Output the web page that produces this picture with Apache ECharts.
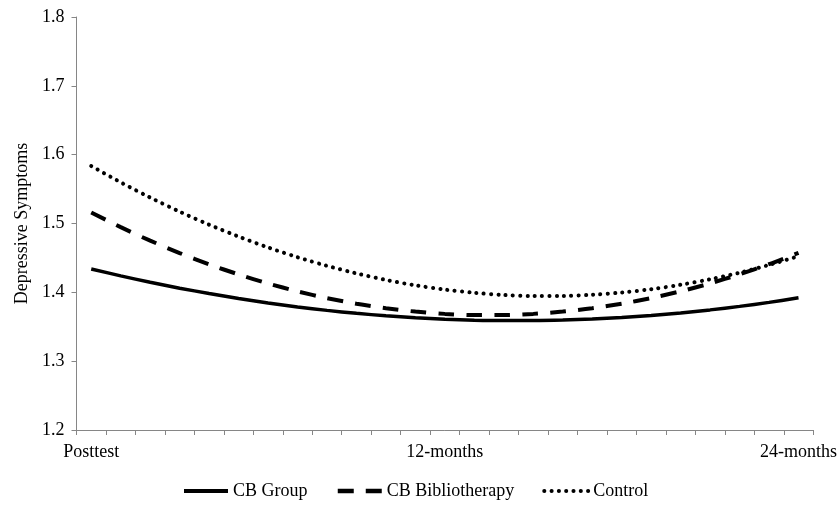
<!DOCTYPE html>
<html>
<head>
<meta charset="utf-8">
<script src="https://cdn.jsdelivr.net/npm/echarts@6/dist/echarts.min.js"></script>
<style>html,body{margin:0;padding:0;background:#fff;}#c{width:840px;height:506px;}</style>
</head>
<body>
<div id="c"></div>
<script>
// Months since posttest (25 points, monthly)
const months = ['0','1','2','3','4','5','6','7','8','9','10','11','12','13','14','15','16','17','18','19','20','21','22','23','24'];
// Tick labels shown on the x axis
const tickLabels = ['Posttest','','','','','','','','','','','','12-months','','','','','','','','','','','','24-months'];
const yTicks = [1.2, 1.3, 1.4, 1.5, 1.6, 1.7, 1.8];

const cbGroup = [1.4340,1.4239,1.4146,1.4060,1.3983,1.3910,1.3845,1.3788,1.3738,1.3695,1.3659,1.3631,1.3610,1.3596,1.3590,1.3590,1.3597,1.3613,1.3635,1.3665,1.3701,1.3745,1.3796,1.3854,1.3920];
const cbBiblio = [1.5160,1.4947,1.4751,1.4571,1.4407,1.4260,1.4129,1.4014,1.3916,1.3834,1.3769,1.3720,1.3687,1.3670,1.3670,1.3687,1.3720,1.3769,1.3835,1.3917,1.4015,1.4130,1.4262,1.4409,1.4573];
const control = [1.5835,1.5598,1.5377,1.5172,1.4983,1.4810,1.4652,1.4510,1.4385,1.4275,1.4180,1.4102,1.4040,1.3993,1.3962,1.3947,1.3948,1.3965,1.3997,1.4045,1.4110,1.4190,1.4285,1.4398,1.4525];

const font = 'Liberation Serif';
const chart = echarts.init(document.getElementById('c'), null, {renderer: 'canvas'});
chart.setOption({
  animation: false,
  backgroundColor: '#fff',
  grid: {left: 76.5, right: 26.5, top: 17, bottom: 76},
  legend: {
    bottom: 1,
    left: 177,
    itemWidth: 44,
    itemHeight: 14,
    itemGap: 28,
    itemStyle: {opacity: 0},
    textStyle: {fontFamily: font, fontSize: 18, color: '#000'},
    data: [
      {name: 'CB Group', lineStyle: {width: 4}},
      {name: 'CB Bibliotherapy', lineStyle: {width: 4.5}},
      {name: 'Control', lineStyle: {width: 4}}
    ]
  },
  xAxis: {
    type: 'category',
    data: months,
    boundaryGap: true,
    axisLine: {lineStyle: {color: '#868686', width: 1}},
    axisTick: {show: true, interval: 0, length: 5, lineStyle: {color: '#868686'}},
    axisLabel: {
      interval: 0,
      margin: 13,
      fontFamily: font, fontSize: 18, color: '#000',
      formatter: (v, i) => tickLabels[i]
    },
    splitLine: {show: false}
  },
  yAxis: {
    type: 'value',
    min: yTicks[0],
    max: yTicks[yTicks.length - 1],
    interval: 0.1,
    name: 'Depressive Symptoms',
    nameLocation: 'middle',
    nameRotate: 90,
    nameGap: 45,
    nameTextStyle: {fontFamily: font, fontSize: 18, color: '#000'},
    axisLine: {show: true, lineStyle: {color: '#868686', width: 1}},
    axisTick: {show: true, length: 5, lineStyle: {color: '#868686'}},
    axisLabel: {margin: 12, fontFamily: font, fontSize: 18, color: '#000', formatter: v => v.toFixed(1)},
    splitLine: {show: false}
  },
  series: [
    {name: 'CB Group', type: 'line', data: cbGroup, symbol: 'none', smooth: 0.3,
      lineStyle: {color: '#000', width: 3.5, type: 'solid'}, itemStyle: {color: '#000'}},
    {name: 'CB Bibliotherapy', type: 'line', data: cbBiblio, symbol: 'none', smooth: 0.3,
      lineStyle: {color: '#000', width: 4, type: [16, 12], cap: 'butt'}, itemStyle: {color: '#000'}},
    {name: 'Control', type: 'line', data: control, symbol: 'none', smooth: 0.3,
      lineStyle: {color: '#000', width: 4, type: [0.1, 7.2], cap: 'round'}, itemStyle: {color: '#000'}}
  ]
});
</script>
</body>
</html>
